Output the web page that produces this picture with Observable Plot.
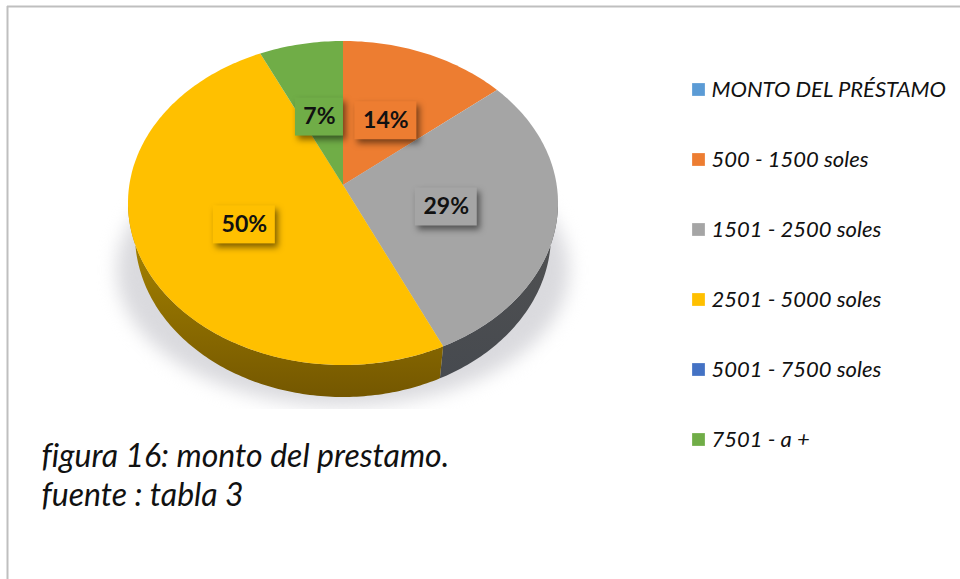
<!DOCTYPE html>
<html><head><meta charset="utf-8">
<script src="https://cdn.jsdelivr.net/npm/d3@7"></script>
<script src="https://cdn.jsdelivr.net/npm/@observablehq/plot@0.6"></script>
<style>html,body{margin:0;padding:0;background:#fff}svg{display:block}</style>
</head><body><div id="chart"></div>
<script>
const categories = ["MONTO DEL PRÉSTAMO","500 - 1500 soles","1501 - 2500 soles","2501 - 5000 soles","5001 - 7500 soles","7501 - a +"];
const shares = [0,14,29,50,0,7];
const sliceColors = ["#5b9bd5","#ed7d31","#a5a5a5","#ffc000","#4472c4","#70ad47"];
const captionLines = ["figura 16: monto del prestamo.","fuente : tabla 3"];

const W = 960, H = 579, FONT = "Lato, Carlito, 'Open Sans', sans-serif";
const topFace = {cx:343, cy:203, rx:215, ry:162};
const baseFace = {cx:343, cy:235, rx:208, ry:162};
const apex = {x:343, y:185};
const tilt = 0.105;
const rad = Math.PI/180;
const lens = t => t - tilt*Math.sin(t);             // perspective shift of the angle
const onEllipse = (e,t) => ({x:e.cx+e.rx*Math.sin(t), y:e.cy-e.ry*Math.cos(t)});
const sweep = (a,b) => { const n=Math.max(2,Math.ceil(Math.abs(b-a)/rad)); return d3.range(n+1).map(i=>a+(b-a)*i/n); };

const total = d3.sum(shares);
let acc = 0;
const slices = categories.map((name,i)=>{ const a=acc/total*2*Math.PI; acc+=shares[i]; const b=acc/total*2*Math.PI; return {name,share:shares[i],a,b,i}; }).filter(d=>d.share>0);

const sectorPts = slices.flatMap(s => sweep(lens(s.a),lens(s.b)).map(t=>{const p=onEllipse(topFace,t);return {name:s.name,x1:apex.x,y1:apex.y,x2:p.x,y2:p.y};}));

const wallMarks = slices.flatMap(s=>{
  const a=Math.max(lens(s.a),90*rad), b=Math.min(lens(s.b),270*rad);
  if(b<=a) return [];
  const pts=sweep(a,b).map(t=>{const p=onEllipse(topFace,t),q=onEllipse(baseFace,t);return {x1:p.x,y1:p.y,x2:q.x,y2:q.y};});
  return [Plot.area(pts,{x1:"x1",y1:"y1",x2:"x2",y2:"y2",fill:`url(#wall${s.i})`})];
});

const shadowE = {cx:343, cy:270, rx:226, ry:136};
const shadowPts = sweep(0,2*Math.PI).map(t=>{const p=onEllipse(shadowE,t);return {x1:shadowE.cx,y1:shadowE.cy,x2:p.x,y2:p.y};});

// nudges that seat each label box where the reference puts it
const labelNudge = {"500 - 1500 soles":[1,1],"1501 - 2500 soles":[-4,3],"2501 - 5000 soles":[2,3],"7501 - a +":[-3,2]};
const labels = slices.map(s=>{
  const t=lens((s.a+s.b)/2), p=onEllipse(topFace,t);
  const text=s.share+"%";
  const hw=text.length>2?31:24;
  const [nx,ny]=labelNudge[s.name];
  const x=(apex.x+p.x)/2+nx, y=(apex.y+p.y)/2+ny;
  return {name:s.name,text,x,y,x1:x-hw,x2:x+hw,y1:y-19,y2:y+19};
});

const legendRows = categories.map((name,i)=>({name,x:698,tx:711,y:89+i*70}));
const captionRows = captionLines.map((line,i)=>({line,x:41,y:456+i*39}));

const defs = () => {
  const d=d3.create("svg:defs");
  const grad=(id,c0,c1)=>{const g=d.append("linearGradient").attr("id",id).attr("gradientUnits","userSpaceOnUse").attr("x1",0).attr("x2",0).attr("y1",topFace.cy).attr("y2",baseFace.cy+baseFace.ry);
    g.append("stop").attr("offset","0").attr("stop-color",c0);g.append("stop").attr("offset","1").attr("stop-color",c1);};
  grad("wall2","#525252","#45494f");
  grad("wall3","#b08c00","#745700");
  return d.node();
};

const chart = Plot.plot({
  width:W,height:H,margin:0,
  x:{domain:[0,W],range:[0,W],axis:null},
  y:{domain:[0,H],range:[0,H],axis:null},
  color:{domain:categories,range:sliceColors},
  style:{background:"#fff",fontVariantLigatures:"none"},
  marks:[
    defs,
    Plot.ruleX([7],{y1:6,y2:H,stroke:"#bfbfbf",strokeWidth:2}),
    Plot.ruleY([6],{x1:7,x2:W,stroke:"#bfbfbf",strokeWidth:2}),
    Plot.area(shadowPts,{x1:"x1",y1:"y1",x2:"x2",y2:"y2",fill:"#dadade",imageFilter:"blur(9px)"}),
    Plot.rect([{x1:90,x2:600,y1:409,y2:430}],{x1:"x1",x2:"x2",y1:"y1",y2:"y2",fill:"#fff"}),
    ...wallMarks,
    Plot.area(sectorPts,{x1:"x1",y1:"y1",x2:"x2",y2:"y2",fill:"name",z:"name"}),
    Plot.rect(labels,{x1:"x1",x2:"x2",y1:"y1",y2:"y2",fill:"name",imageFilter:"drop-shadow(3px 4px 3px rgba(0,0,0,.5))"}),
    Plot.text(labels,{x:"x",y:"y",text:"text",fontFamily:FONT,fontWeight:"bold",fontSize:23,fill:"#111"}),
    Plot.dot(legendRows,{x:"x",y:"y",symbol:"square",r:7.2,fill:"name"}),
    Plot.text(legendRows,{x:"tx",y:"y",text:"name",textAnchor:"start",fontFamily:FONT,fontStyle:"italic",fontSize:22,fill:"#111"}),
    Plot.text(captionRows,{x:"x",y:"y",text:"line",textAnchor:"start",fontFamily:FONT,fontStyle:"italic",fontSize:32,fill:"#111"})
  ]
});
document.getElementById("chart").append(chart);
</script></body></html>
